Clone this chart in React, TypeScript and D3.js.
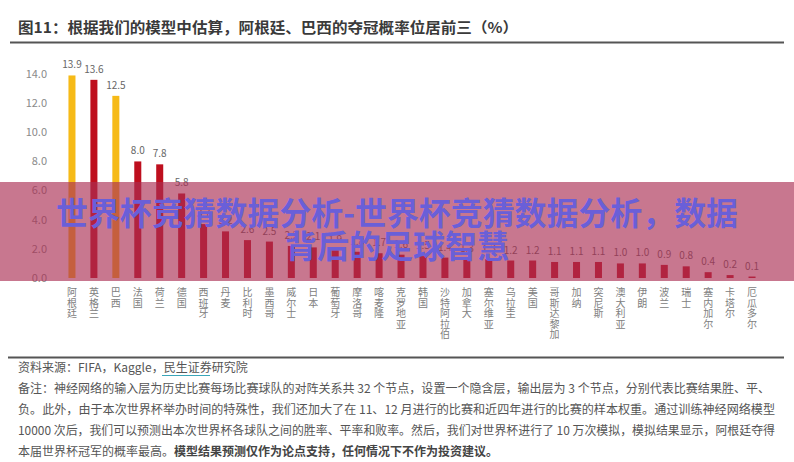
import React from "react";
import * as d3 from "d3";

const teams = ["阿根廷","英格兰","巴西","法国","荷兰","德国","西班牙","丹麦","比利时","墨西哥","威尔士","日本","葡萄牙","摩洛哥","喀麦隆","克罗地亚","韩国","沙特阿拉伯","加拿大","塞尔维亚","乌拉圭","美国","哥斯达黎加","加纳","突尼斯","澳大利亚","伊朗","波兰","瑞士","塞内加尔","卡塔尔","厄瓜多尔"];
const probs = [13.9,13.6,12.5,8.0,7.8,5.8,3.7,3.2,2.6,2.5,2.2,2.1,1.9,1.8,1.7,1.6,1.5,1.4,1.3,1.3,1.2,1.2,1.1,1.1,1.1,1.0,1.0,0.9,0.8,0.4,0.2,0.1];
const highlighted = ["阿根廷","巴西"];
const yTicks = [0,2,4,6,8,10,12,14];

const title = "图11：根据我们的模型中估算，阿根廷、巴西的夺冠概率位居前三（%）";
const sourceLine = ["资料来源：FIFA，Kaggle，", "民生证券", "研究院"];
const noteLines = [
  "备注：神经网络的输入层为历史比赛每场比赛球队的对阵关系共 32 个节点，设置一个隐含层，输出层为 3 个节点，分别代表比赛结果胜、平、",
  "负。此外，由于本次世界杯举办时间的特殊性，我们还加大了在 11、12 月进行的比赛和近四年进行的比赛的样本权重。通过训练神经网络模型",
  "10000 次后，我们可以预测出本次世界杯各球队之间的胜率、平率和败率。然后，我们对世界杯进行了 10 万次模拟，模拟结果显示，阿根廷夺得",
];
const lastNote = ["本届世界杯冠军的概率最高。", "模型结果预测仅作为论点支持，任何情况下不作为投资建议。"];
const overlayLines = ["世界杯竞猜数据分析-世界杯竞猜数据分析，数据", "背后的足球智慧"];

const W = 794, H = 462;
const FONT = "'Noto Sans CJK SC', 'Noto Sans', sans-serif";

export default function App() {
  const x = d3.scaleBand<string>().domain(teams).range([61, 763]).paddingInner(0.68).paddingOuter(0.34);
  const y = d3.scaleLinear().domain([0, 14]).range([278, 74]);
  const bw = x.bandwidth();
  return (
    <svg width={W} height={H} style={{ position: "absolute", left: 0, top: 0, background: "#fff" }} fontFamily={FONT}>
      <rect x={0} y={0} width={W} height={H} fill="#fff" />
      {/* title */}
      <text x={18} y={33} fontSize={14.5} fontWeight="bold" fill="#3a3a3a" textLength={500} lengthAdjust="spacingAndGlyphs">{title}</text>
      <line x1={10} x2={784} y1={42.5} y2={42.5} stroke="#555" strokeWidth={2} />

      {/* y ticks */}
      {yTicks.map(t => (
        <text key={t} x={47} y={y(t)} dy="0.35em" fontSize={11} fill="#8a8a8a" textAnchor="end">{t.toFixed(1)}</text>
      ))}

      {/* bars */}
      {teams.map((tm, i) => {
        const v = probs[i];
        const cx = (x(tm) as number) + bw / 2;
        const col = highlighted.includes(tm) ? "#F6BA17" : "#BE0F1E";
        return (
          <g key={tm}>
            <rect x={x(tm)} y={y(v)} width={bw} height={y(0) - y(v)} fill={col} />
            <text x={cx} y={y(v) - 7} fontSize={10} fill="#666" textAnchor="middle">{v.toFixed(1)}</text>
            <text x={cx} y={296} fontSize={10} fill="#808080" textAnchor="middle">
              {tm.split("").map((c, k) => (
                <tspan key={k} x={cx} dy={k === 0 ? 0 : 10.5}>{c}</tspan>
              ))}
            </text>
          </g>
        );
      })}

      {/* footer */}
      <line x1={8} x2={784} y1={357.5} y2={357.5} stroke="#555" strokeWidth={2} />
      <text x={18} y={372} fontSize={12} fill="#555">
        <tspan>{sourceLine[0]}</tspan>
        <tspan>{sourceLine[1]}</tspan>
        <tspan>{sourceLine[2]}</tspan>
      </text>
      <line x1={162} x2={210} y1={375.5} y2={375.5} stroke="#3aa6b9" strokeWidth={1.2} />
      {noteLines.map((ln, i) => (
        <text key={i} x={18} y={393 + i * 21} fontSize={12} fill="#555" textLength={i === 0 ? 752 : 757} lengthAdjust="spacingAndGlyphs">{ln}</text>
      ))}
      <text x={18} y={456} fontSize={12} fill="#555">
        <tspan>{lastNote[0]}</tspan>
        <tspan fontWeight="bold" fill="#444">{lastNote[1]}</tspan>
      </text>

      {/* overlay banner */}
      <rect x={0} y={182} width={W} height={99} fill="rgb(170,46,83)" fillOpacity={0.65} />
      <text x={397} y={225} fontSize={32} fontWeight="bold" fill="#6a5fd8" textAnchor="middle" textLength={682} lengthAdjust="spacingAndGlyphs">{overlayLines[0]}</text>
      <text x={397} y={258} fontSize={32} fontWeight="bold" fill="#6a5fd8" textAnchor="middle">{overlayLines[1]}</text>
    </svg>
  );
}
